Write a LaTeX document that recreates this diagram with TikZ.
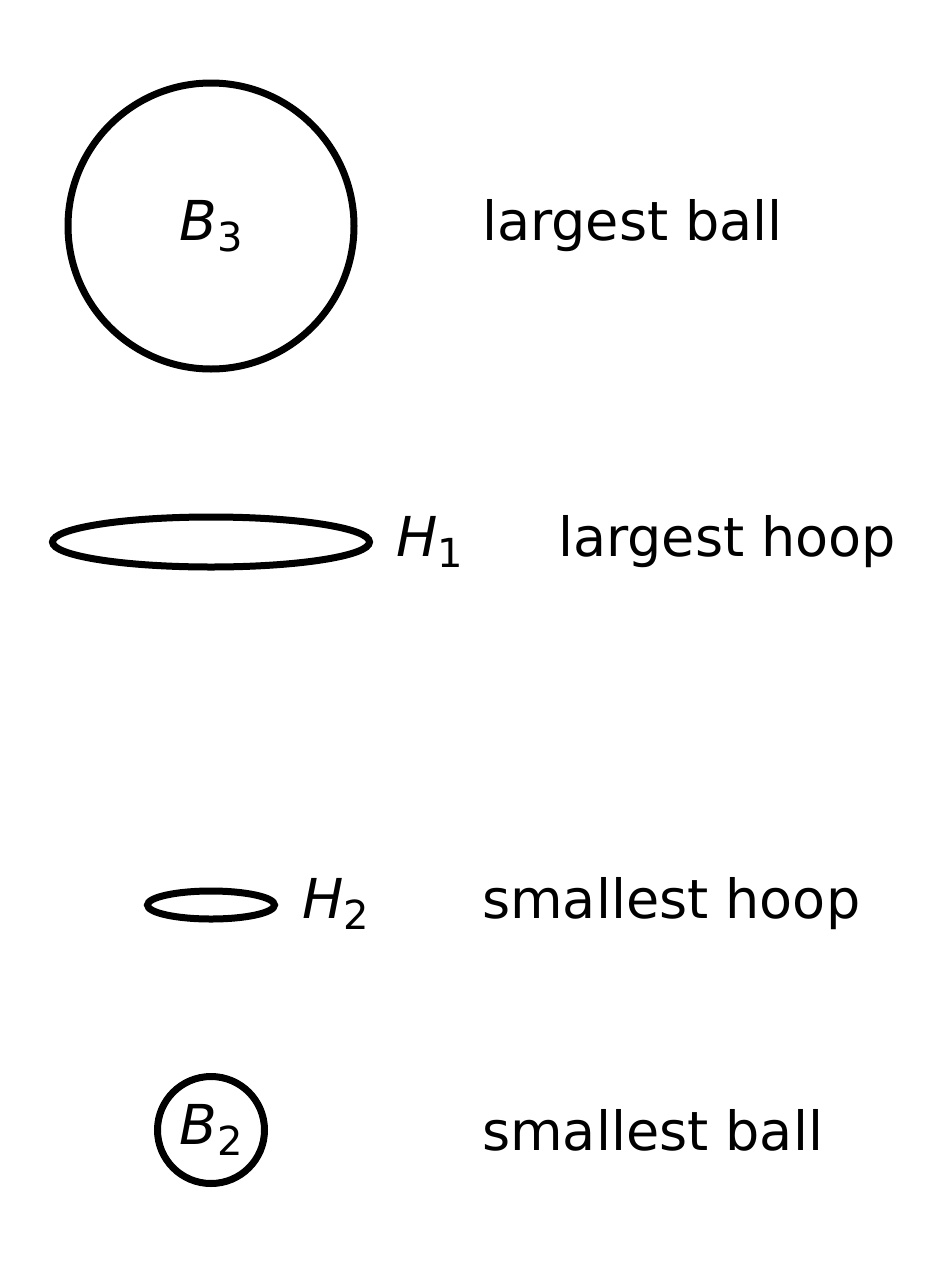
\documentclass[tikz,border=0pt]{standalone}
\usepackage{fontspec}
\setmainfont{DejaVu Sans}
\usetikzlibrary{shapes.geometric}
\newcommand{\mylbl}[2]{{\itshape #1}\raisebox{-0.2em}{\fontsize{40}{46}\selectfont #2}}
\tikzset{
  shapeline/.style={draw=black, line width=7pt, inner sep=0pt},
  txt/.style={font=\fontsize{54}{64}\selectfont, inner sep=0pt, anchor=west},
  mlbl/.style={font=\fontsize{55}{64}\selectfont, inner sep=0pt}
}
\begin{document}
\begin{tikzpicture}[x=1pt,y=-1pt]
\useasboundingbox[fill=white] (0,0) rectangle (926,1266);
\node[shapeline, circle, minimum size=286pt, font=\fontsize{55}{64}\selectfont] (b3) at (211,226) {\mylbl{B}{3}};
\node[txt] (t1) at (482,226) {largest ball};
\node[shapeline, ellipse, minimum width=317pt, minimum height=50pt] (h1) at (211,542) {};
\node[mlbl, anchor=west] (h1l) at (396,542) {\mylbl{H}{1}};
\node[txt] (t2) at (558,542) {largest hoop};
\node[shapeline, ellipse, minimum width=127pt, minimum height=28pt] (h2) at (211,905) {};
\node[mlbl, anchor=west] (h2l) at (302,904) {\mylbl{H}{2}};
\node[txt] (t3) at (482,904) {smallest hoop};
\node[shapeline, circle, minimum size=107pt, font=\fontsize{55}{64}\selectfont] (b2) at (211,1130) {\mylbl{B}{2}};
\node[txt] (t4) at (482,1130) {smallest ball};
\end{tikzpicture}
\end{document}
